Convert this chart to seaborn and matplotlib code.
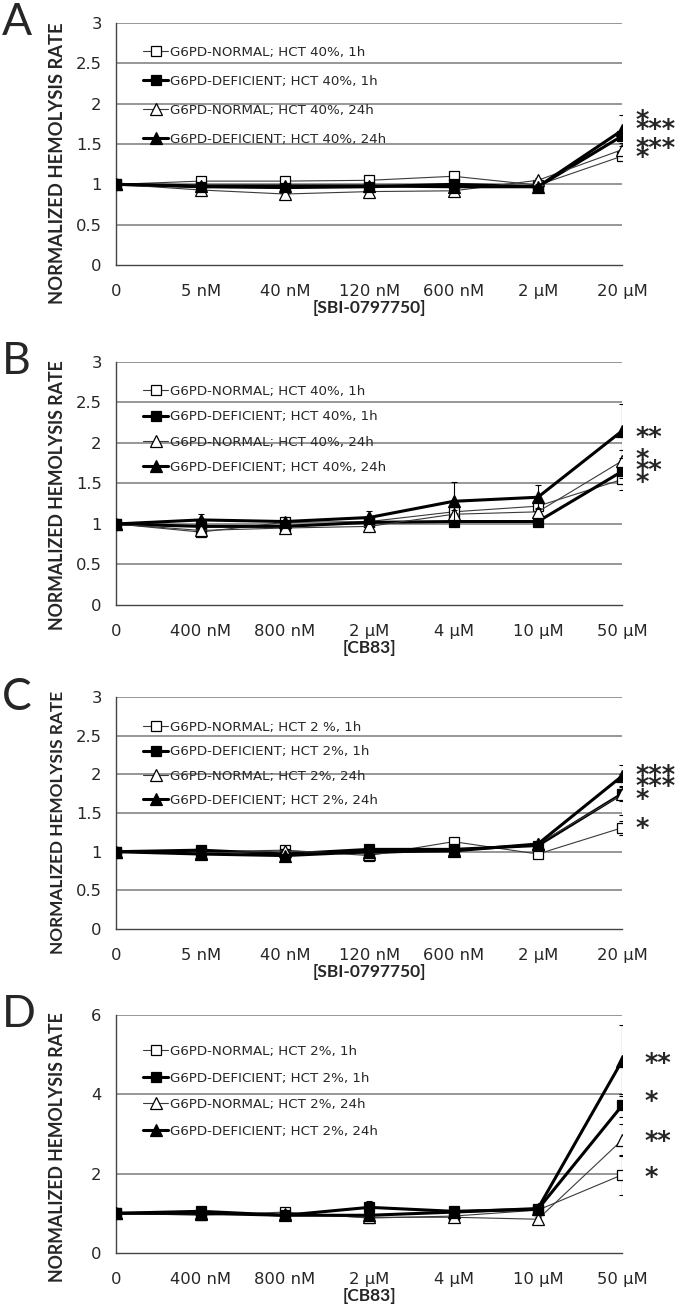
import numpy as np
import pandas as pd
import matplotlib
matplotlib.use("Agg")
import matplotlib.pyplot as plt
import matplotlib.transforms as mtransforms
import seaborn as sns

# x categories
conc_sbi = ['0', '5 nM', '40 nM', '120 nM', '600 nM', '2 µM', '20 µM']
conc_cb83 = ['0', '400 nM', '800 nM', '2 µM', '4 µM', '10 µM', '50 µM']

# Panel A - SBI-0797750, HCT 40%
a_norm_1h = [1.00, 1.04, 1.04, 1.05, 1.10, 0.99, 1.35]
a_def_1h = [1.00, 0.97, 0.96, 0.97, 1.00, 0.97, 1.60]
a_norm_24h = [1.00, 0.93, 0.88, 0.91, 0.92, 1.05, 1.43]
a_def_24h = [1.00, 0.98, 0.98, 0.98, 0.97, 0.97, 1.67]
a_err_norm_1h = [0.02, 0.03, 0.03, 0.03, 0.03, 0.03, 0.05]
a_err_def_1h = [0.02, 0.02, 0.02, 0.02, 0.02, 0.02, 0.05]
a_err_norm_24h = [0.02, 0.03, 0.03, 0.03, 0.03, 0.03, 0.08]
a_err_def_24h = [0.02, 0.02, 0.02, 0.02, 0.02, 0.03, 0.19]
a_stars = ['*', '***', '***', '*']
a_star_y = [1.82, 1.71, 1.48, 1.36]

# Panel B - CB83, HCT 40%
b_norm_1h = [1.00, 0.90, 1.02, 1.03, 1.15, 1.22, 1.55]
b_def_1h = [1.00, 0.97, 0.97, 1.02, 1.03, 1.03, 1.65]
b_norm_24h = [1.00, 0.92, 0.95, 0.97, 1.12, 1.15, 1.78]
b_def_24h = [1.00, 1.05, 1.03, 1.08, 1.28, 1.33, 2.15]
b_err_norm_1h = [0.02, 0.03, 0.03, 0.03, 0.05, 0.05, 0.13]
b_err_def_1h = [0.02, 0.02, 0.02, 0.02, 0.02, 0.02, 0.08]
b_err_norm_24h = [0.02, 0.03, 0.03, 0.03, 0.05, 0.05, 0.13]
b_err_def_24h = [0.02, 0.07, 0.05, 0.08, 0.24, 0.15, 0.33]
b_stars = ['**', '*', '**', '*']
b_star_y = [2.10, 1.83, 1.69, 1.54]

# Panel C - SBI-0797750, HCT 2%
c_norm_1h = [1.00, 1.00, 1.02, 0.95, 1.13, 0.97, 1.31]
c_def_1h = [1.00, 1.02, 0.97, 1.03, 1.03, 1.08, 1.75]
c_norm_24h = [1.00, 0.98, 1.01, 0.97, 1.02, 1.10, 1.74]
c_def_24h = [1.00, 0.97, 0.95, 1.00, 1.01, 1.10, 1.98]
c_err_norm_1h = [0.02, 0.03, 0.03, 0.03, 0.03, 0.04, 0.09]
c_err_def_1h = [0.02, 0.02, 0.02, 0.02, 0.02, 0.02, 0.10]
c_err_norm_24h = [0.02, 0.03, 0.03, 0.03, 0.03, 0.03, 0.27]
c_err_def_24h = [0.02, 0.02, 0.02, 0.02, 0.02, 0.03, 0.14]
c_stars = ['***', '***', '*', '*']
c_star_y = [2.02, 1.88, 1.71, 1.33]

# Panel D - CB83, HCT 2%
d_norm_1h = [1.00, 0.95, 1.03, 0.88, 0.93, 1.08, 1.97]
d_def_1h = [1.00, 1.05, 0.95, 1.15, 1.05, 1.10, 3.72]
d_norm_24h = [1.00, 0.97, 0.97, 0.90, 0.90, 0.85, 2.85]
d_def_24h = [1.00, 1.00, 0.95, 0.95, 1.03, 1.12, 4.85]
d_err_norm_1h = [0.03, 0.05, 0.05, 0.05, 0.05, 0.05, 0.50]
d_err_def_1h = [0.03, 0.05, 0.05, 0.17, 0.05, 0.05, 0.30]
d_err_norm_24h = [0.03, 0.05, 0.05, 0.05, 0.05, 0.05, 0.40]
d_err_def_24h = [0.03, 0.05, 0.05, 0.05, 0.05, 0.05, 0.90]
d_stars = ['**', '*', '**', '*']
d_star_y = [4.84, 3.87, 2.87, 1.97]

sns.set_style("white")
plt.rcParams['font.family'] = ['DejaVu Sans']

fig = plt.figure(figsize=(6.8, 13.12), dpi=100)

# letter, categories, xlabel, hct, ylim, yticks, series, errors, stars, star y,
# axes [bottom, height], legend (top, spacing), ylabel (y, size), star x
panels = [
    ('A', conc_sbi, '[SBI-0797750]', '40%', (0, 3), [0, 0.5, 1, 1.5, 2, 2.5, 3],
     [a_norm_1h, a_def_1h, a_norm_24h, a_def_24h],
     [a_err_norm_1h, a_err_def_1h, a_err_norm_24h, a_err_def_24h], a_stars, a_star_y,
     (0.7980, 0.1845), (0.905, 1.19), (0.42, 13.2), 6.16),
    ('B', conc_cb83, '[CB83]', '40%', (0, 3), [0, 0.5, 1, 1.5, 2, 2.5, 3],
     [b_norm_1h, b_def_1h, b_norm_24h, b_def_24h],
     [b_err_norm_1h, b_err_def_1h, b_err_norm_24h, b_err_def_24h], b_stars, b_star_y,
     (0.5389, 0.1852), (0.905, 0.92), (0.45, 12.8), 6.16),
    ('C', conc_sbi, '[SBI-0797750]', '2%', (0, 3), [0, 0.5, 1, 1.5, 2, 2.5, 3],
     [c_norm_1h, c_def_1h, c_norm_24h, c_def_24h],
     [c_err_norm_1h, c_err_def_1h, c_err_norm_24h, c_err_def_24h], c_stars, c_star_y,
     (0.2919, 0.1768), (0.897, 0.85), (0.46, 12.4), 6.16),
    ('D', conc_cb83, '[CB83]', '2%', (0, 6), [0, 2, 4, 6],
     [d_norm_1h, d_def_1h, d_norm_24h, d_def_24h],
     [d_err_norm_1h, d_err_def_1h, d_err_norm_24h, d_err_def_24h], d_stars, d_star_y,
     (0.0450, 0.1814), (0.874, 1.02), (0.445, 12.8), 6.26),
]

# series styles: (marker, face, line width, line colour)
styles = [('s', 'white', 0.8, '#3a3a3a'),
          ('s', 'black', 2.2, 'black'),
          ('^', 'white', 0.8, '#3a3a3a'),
          ('^', 'black', 2.2, 'black')]

for (letter, cats, xlab, hct, ylim, yticks, series, errs, stars, star_y,
     (bottom, height), (leg_top, leg_sp), (ylab_y, ylab_fs), star_x) in panels:
    ax = fig.add_axes([0.171, bottom, 0.744, height])
    x = np.arange(len(cats))
    hct1 = 'HCT 2 %' if letter == 'C' else 'HCT ' + hct
    labels = ['G6PD-NORMAL; %s, 1h' % hct1,
              'G6PD-DEFICIENT; HCT %s, 1h' % hct,
              'G6PD-NORMAL; HCT %s, 24h' % hct,
              'G6PD-DEFICIENT; HCT %s, 24h' % hct]

    for yv in yticks[1:]:
        ax.axhline(yv, color='#858585', lw=1.2, zorder=0)

    handles = []
    for i, (vals, err) in enumerate(zip(series, errs)):
        mk, face, lw, col = styles[i]
        ax.errorbar(x, vals, yerr=err, fmt='none', ecolor='black', elinewidth=0.8,
                    capsize=2.5, capthick=0.8, zorder=2 + i)
        sns.lineplot(x=x, y=vals, ax=ax, color=col, linewidth=lw, marker=mk,
                     markersize=7.5 if mk == 's' else 8, markerfacecolor=face,
                     markeredgecolor='black', markeredgewidth=0.9, zorder=3 + i)
        handles.append(ax.get_lines()[-1])

    ax.legend(handles, labels, loc='upper left', bbox_to_anchor=(0.053, leg_top),
              frameon=False, fontsize=9.6, handlelength=1.9, handletextpad=0.15,
              labelspacing=leg_sp, borderaxespad=0, borderpad=0)

    star_tr = mtransforms.offset_copy(ax.transData, fig=fig, y=-4, units='dots')
    for s, sy in zip(stars, star_y):
        ax.text(star_x, sy, s, ha='left', va='center', fontsize=18.5,
                fontweight='bold', clip_on=False, transform=star_tr)

    ax.set_xlim(0, 6)
    ax.set_ylim(*ylim)
    ax.set_yticks(yticks)
    ax.set_yticklabels([('%g' % v) for v in yticks])
    ax.set_xticks(x)
    ax.set_xticklabels(cats)
    ax.tick_params(axis='both', labelsize=11.8, direction='out', length=4.5,
                   width=1.0, color='#444444')
    ax.tick_params(axis='x', pad=9)
    ax.tick_params(axis='y', pad=6)
    for side in ['top', 'right']:
        ax.spines[side].set_visible(False)
    for side in ['left', 'bottom']:
        ax.spines[side].set_color('#444444')
        ax.spines[side].set_linewidth(1.0)
    ax.set_xlabel(xlab, fontsize=12.5, fontweight='bold', labelpad=1,
                  family=['Lato', 'DejaVu Sans'])
    ax.set_ylabel('NORMALIZED HEMOLYSIS RATE', fontsize=ylab_fs, fontweight='bold',
                  family=['Lato', 'DejaVu Sans'])
    ax.yaxis.set_label_coords(-0.10, ylab_y)
    fig.text(0.003, bottom + height, letter, fontsize=32, va='center', ha='left',
             family=['Lato', 'DejaVu Sans'])

fig.savefig('out.png', dpi=100)
